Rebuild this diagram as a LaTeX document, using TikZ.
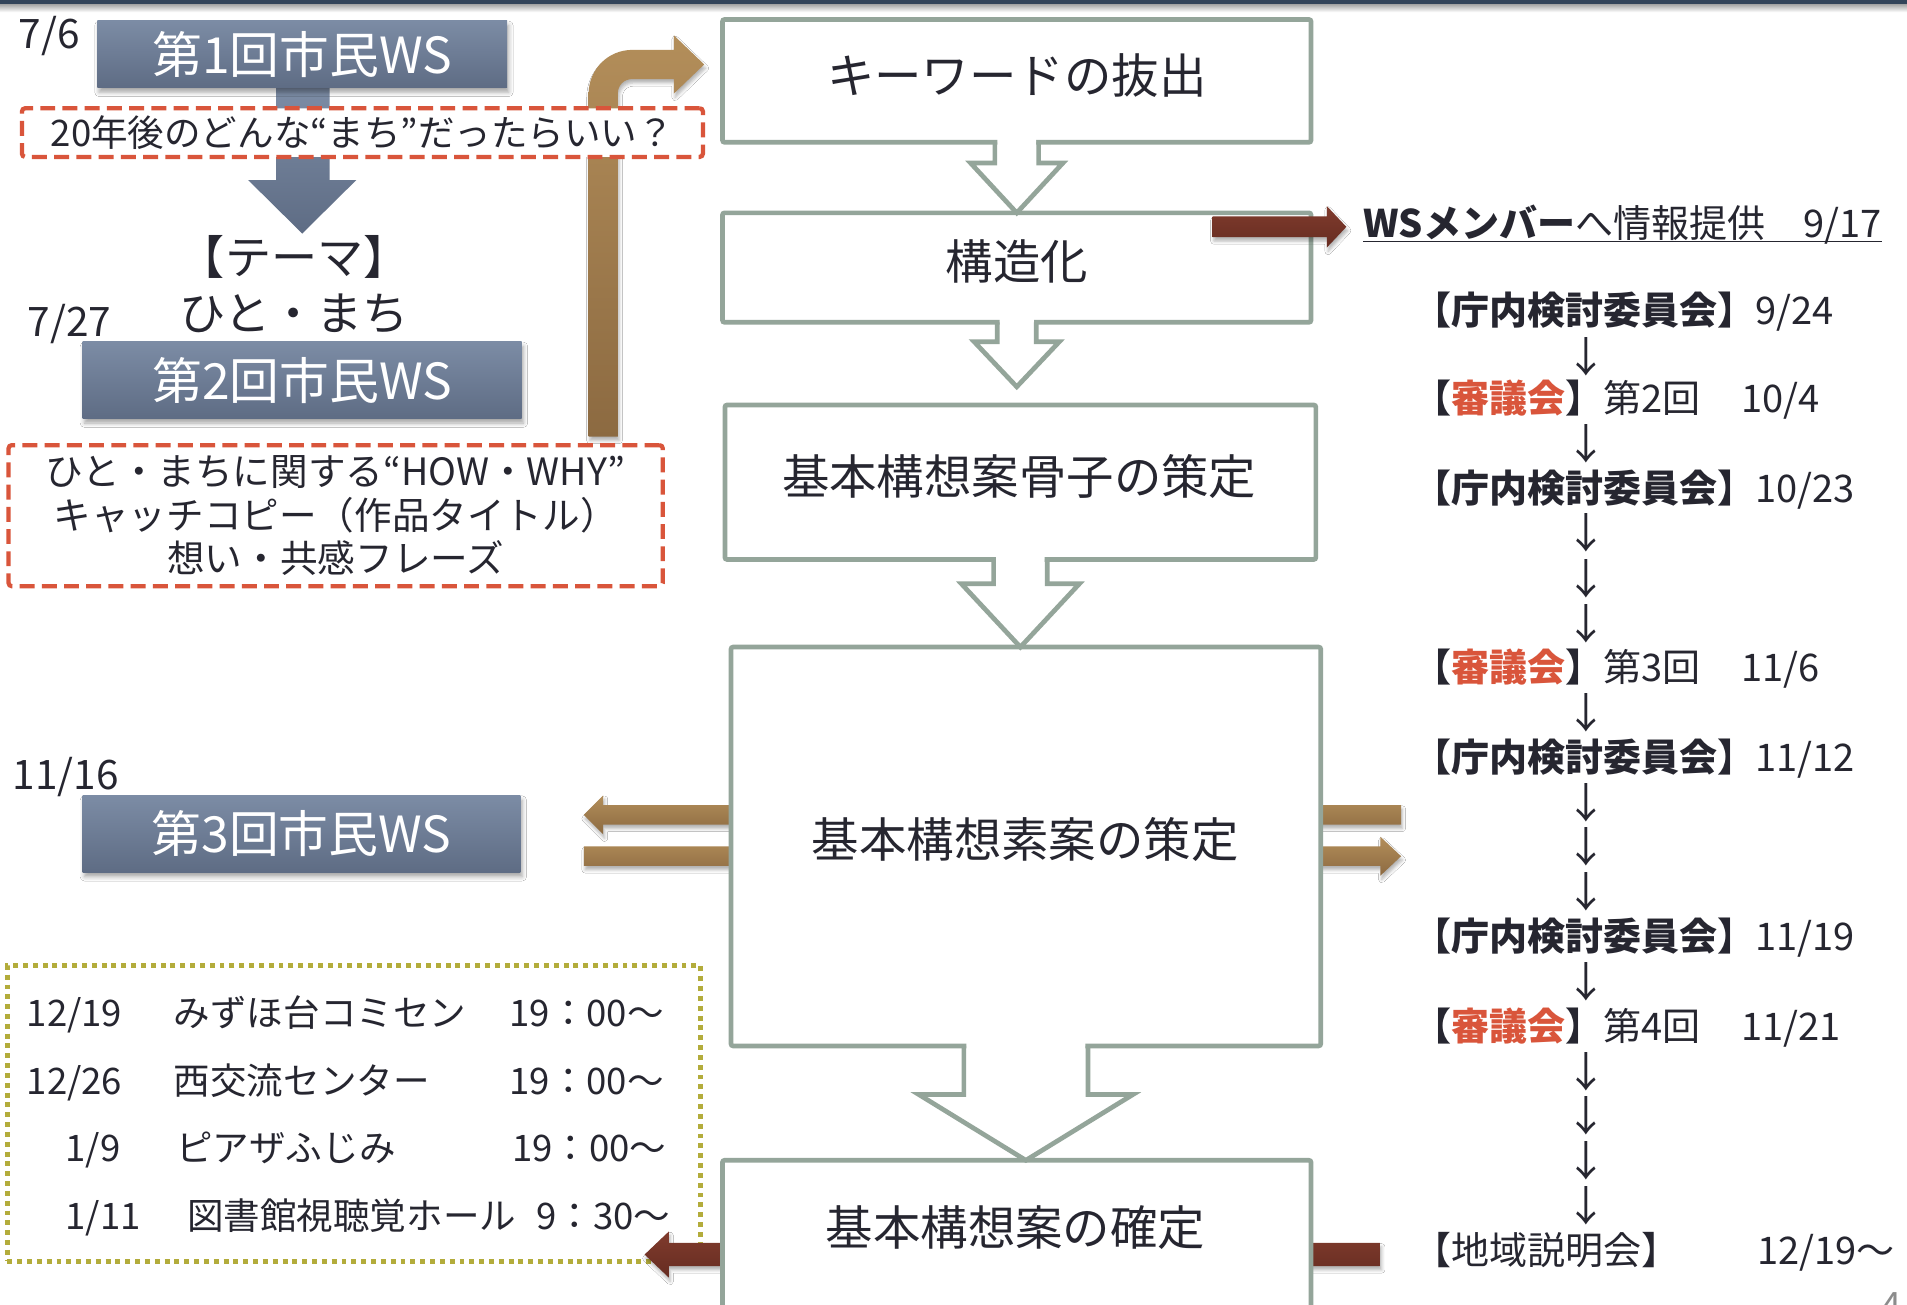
\documentclass[tikz,border=0pt]{standalone}
\usepackage{fontspec}
\setmainfont{Noto Sans CJK JP}
\usetikzlibrary{calc,shadows.blur}
\definecolor{txt}{HTML}{262630}
\definecolor{flow}{HTML}{94A59A}
\definecolor{redd}{HTML}{D9553B}
\definecolor{olive}{HTML}{B3AC3B}
\definecolor{slateT}{HTML}{7C8CA5}
\definecolor{slateB}{HTML}{5E6C84}
\definecolor{tanT}{HTML}{B38E5A}
\definecolor{tanB}{HTML}{8C6A41}
\definecolor{marT}{HTML}{803B2D}
\definecolor{marB}{HTML}{662C21}
\definecolor{topbar}{HTML}{33445A}
\newcommand{\fsz}[1]{\fontsize{#1}{#1}\selectfont}
% hollow block arrow: #1 source node, #2 apex, #3 stem half width, #4 head half width, #5 shoulder drop
\newcommand{\hollowarrow}[5]{%
  \fill[white] ($(#1.south)+(-#3+2,-3)$) -- ($(#1.south)+(-#3+2,#5)$) -- ($(#1.south)+(-#4,#5)$) -- (#2)
     -- ($(#1.south)+(#4,#5)$) -- ($(#1.south)+(#3-2,#5)$) -- ($(#1.south)+(#3-2,-3)$) -- cycle;
  \draw[flowline] ($(#1.south)+(-#3,0)$) -- ($(#1.south)+(-#3,#5)$) -- ($(#1.south)+(-#4,#5)$) -- (#2)
     -- ($(#1.south)+(#4,#5)$) -- ($(#1.south)+(#3,#5)$) -- ($(#1.south)+(#3,0)$);}
% horizontal block arrow: #1 style, #2 tail x, #3 head base x, #4 tip x, #5 centre y, #6 shaft half, #7 head half
\newcommand{\harrow}[7]{%
  \path[#1] (#2,#5-#6) -- (#3,#5-#6) -- (#3,#5-#7) -- (#4,#5) -- (#3,#5+#7) -- (#3,#5+#6) -- (#2,#5+#6) -- cycle;}
\begin{document}
\begin{tikzpicture}[x=0.02cm,y=-0.02cm,
  flowbox/.style={draw=flow, line width=2.2pt, fill=white, outer sep=0pt, inner sep=0pt, rounded corners=1pt},
  flowline/.style={draw=flow, line width=2.2pt, line join=miter},
  lbl/.style={text=txt, inner sep=0pt, outer sep=0pt},
  boxlbl/.style={lbl, font=\fsz{22.2}},
  datelbl/.style={lbl, font=\fsz{19}},
  schlbl/.style={lbl, font=\fsz{17.1}, anchor=base west},
  rlbl/.style={lbl, font=\fsz{17.8}, anchor=base west},
  darrow/.style={lbl, font=\fsz{19.5}},
  wsbox/.style={top color=slateT, bottom color=slateB, text=white, inner sep=0pt, font=\fsz{23.3},
     blur shadow={shadow xshift=0.8pt, shadow yshift=-2.2pt, shadow blur radius=2pt, shadow opacity=35}},
  dbox/.style={draw=redd, line width=2pt, dash pattern=on 7pt off 3.4pt, fill=white, inner sep=0pt,
     rounded corners=1.5pt, text=txt, align=center},
  tanarrow/.style={top color=tanT, bottom color=tanB,
     blur shadow={shadow xshift=0.6pt, shadow yshift=-1.8pt, shadow blur radius=1.5pt, shadow opacity=30}},
  mararrow/.style={top color=marT, bottom color=marB,
     blur shadow={shadow xshift=0.6pt, shadow yshift=-1.8pt, shadow blur radius=1.5pt, shadow opacity=30}},
]
\clip (0,0) rectangle (1568,1073);
\fill[white] (0,0) rectangle (1568,1073);
% top bar
\fill[topbar] (0,0) rectangle (1568,3.5);
\shade[top color=black!35, bottom color=white] (0,3.5) rectangle (1568,10);

% slate down arrow below WS1
\coordinate (ws1s) at (248.5,72);
\path[top color=slateT, bottom color=slateB]
  ($(ws1s)+(-21.5,0)$) -- ($(ws1s)+(-21.5,76)$) -- ($(ws1s)+(-44.5,76)$) -- ($(ws1s)+(0,120)$)
  -- ($(ws1s)+(44.5,76)$) -- ($(ws1s)+(22.5,76)$) -- ($(ws1s)+(22.5,0)$) -- cycle;
\node[wsbox, minimum width=6.74cm, minimum height=1.10cm] (ws1) at (248.5,44.5) {第1回市民WS};

% tan bent arrow
\path[tanarrow] (484,359) -- (484,77) .. controls (484,57) and (500,41) .. (520,41) -- (554,41) -- (554,29)
  -- (579,53) -- (554,77) -- (554,65) -- (520,65) .. controls (513,65) and (508,70) .. (508,77) -- (508,359) -- cycle;

% dashed boxes
\node[dbox, minimum width=11.2cm, minimum height=0.8cm, font=\fsz{17.1}] (q1) at (298,109)
  {20年後のどんな“まち”だったらいい？};
\node[dbox, minimum width=10.76cm, minimum height=2.32cm, font=\fontsize{17.6}{20.5}\selectfont] (q2) at (276,424)
  {ひと・まちに関する“HOW・WHY”\\キャッチコピー（作品タイトル）\\想い・共感フレーズ};

% theme
\node[lbl, align=center, font=\fontsize{21.6}{26.2}\selectfont] (theme) at (242,234) {【テーマ】\\ひと・まち};

% WS boxes 2 and 3
\node[wsbox, minimum width=7.22cm, minimum height=1.26cm] (ws2) at (248.5,312.5) {第2回市民WS};
\node[wsbox, minimum width=7.20cm, minimum height=1.26cm] (ws3) at (248,685.5) {第3回市民WS};

% date labels
\node[datelbl] (d1) at (40.5,30) {7/6};
\node[datelbl] (d2) at (57,266) {7/27};
\node[datelbl] (d3) at (54,639) {11/16};

% schedule box
\node[draw=olive, line width=2.3pt, dash pattern=on 2.3pt off 2.3pt, minimum width=11.40cm, minimum height=4.86cm,
  inner sep=0pt] (sched) at (291,915.5) {};
\node[schlbl] at (22,844) {12/19};
\node[schlbl] at (143,844) {みずほ台コミセン};
\node[schlbl] at (419,844) {19：00～};
\node[schlbl] at (22,900) {12/26};
\node[schlbl] at (143,900) {西交流センター};
\node[schlbl] at (419,900) {19：00～};
\node[schlbl] at (54,955) {1/9};
\node[schlbl] at (145,955) {ピアザふじみ};
\node[schlbl] at (421,955) {19：00～};
\node[schlbl] at (54,1011) {1/11};
\node[schlbl] at (154,1011) {図書館視聴覚ホール};
\node[schlbl] at (441,1011) {9：30～};

% arrows passing behind boxes 4 and 5
\harrow{tanarrow}{1152}{496}{480}{670}{8}{16}
\harrow{tanarrow}{480}{1135}{1152}{704}{8}{16}
\harrow{mararrow}{1135}{550}{530}{1031.5}{9.5}{19}

% flow boxes
\node[flowbox, minimum width=9.68cm, minimum height=2.02cm] (b1) at (836,66.5) {};
\node[flowbox, minimum width=9.68cm, minimum height=1.80cm] (b2) at (836,220) {};
\node[flowbox, minimum width=9.72cm, minimum height=2.54cm] (b3) at (839,396.5) {};
\node[flowbox, minimum width=9.70cm, minimum height=6.56cm] (b4) at (843.5,696) {};
\node[flowbox, minimum width=9.68cm, minimum height=2.72cm] (b5) at (836,1022) {};

\coordinate (a1) at (b1.south |- b2.north);
\coordinate (a2) at (836,318);
\coordinate (a3) at (b3.south |- b4.north);
\coordinate (a4) at (b4.south |- b5.north);
\hollowarrow{b1}{a1}{18}{38}{17}
\hollowarrow{b2}{a2}{16}{35}{16}
\hollowarrow{b3}{a3}{22}{48.5}{20}
\hollowarrow{b4}{a4}{51}{88}{40}

\node[boxlbl] (t1) at (836,62) {キーワードの抜出};
\node[boxlbl] (t2) at (836,215) {構造化};
\node[boxlbl] (t3) at (838,392) {基本構想案骨子の策定};
\node[boxlbl] (t4) at (843,690) {基本構想素案の策定};
\node[boxlbl] (t5) at (835,1009) {基本構想案の確定};

% maroon arrow to WS members
\harrow{mararrow}{997}{1091}{1107}{186.5}{8.5}{17}

% right column
\node[rlbl] (hdr) at (1121,195) {{\bfseries WSメンバー}へ情報提供　9/17};
\draw[txt, line width=0.8pt] ($(hdr.base west)+(0,3.5)$) -- ($(hdr.base east)+(0,3.5)$);

\node[rlbl] (r1) at (1162,266.5) {{\bfseries 【庁内検討委員会】}9/24};
\node[rlbl] (r2) at (1162,339.5) {{\bfseries 【\textcolor{redd}{審議会}】}第2回};
\node[rlbl] at (1432,339.5) {10/4};
\node[rlbl] (r3) at (1162,413.5) {{\bfseries 【庁内検討委員会】}10/23};
\node[rlbl] (r4) at (1162,560.5) {{\bfseries 【\textcolor{redd}{審議会}】}第3回};
\node[rlbl] at (1432,560.5) {11/6};
\node[rlbl] (r5) at (1162,634.5) {{\bfseries 【庁内検討委員会】}11/12};
\node[rlbl] (r6) at (1162,781.5) {{\bfseries 【庁内検討委員会】}11/19};
\node[rlbl] (r7) at (1162,855.5) {{\bfseries 【\textcolor{redd}{審議会}】}第4回};
\node[rlbl] at (1432,855.5) {11/21};
\node[rlbl] (r8) at (1162,1039.5) {【地域説明会】};
\node[rlbl] at (1445,1039.5) {12/19～};

\foreach \yy in {293,365,438,476,513,586,660,696,733,807,881,917,954,991}
  \node[darrow] at (1304,\yy) {↓};

% page number (clipped at the bottom edge, as in the reference)
\node[lbl, text=black!45, font=\fsz{17}, anchor=base] (pg) at (1555,1084) {4};
\end{tikzpicture}
\end{document}
